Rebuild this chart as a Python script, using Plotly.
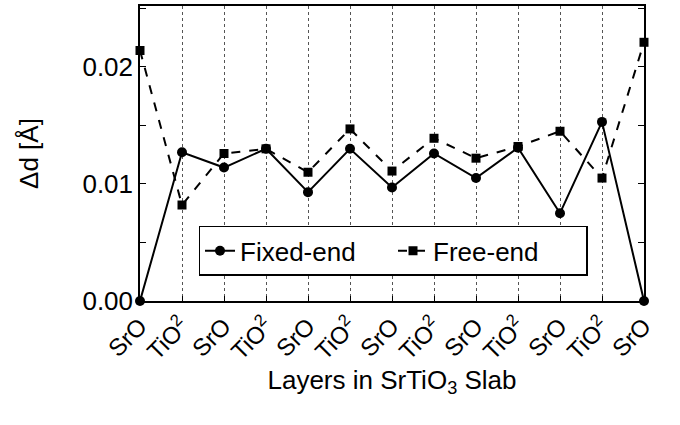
import plotly.graph_objects as go

layers = ["SrO", "TiO<sup>2</sup>", "SrO", "TiO<sup>2</sup>", "SrO", "TiO<sup>2</sup>", "SrO",
          "TiO<sup>2</sup>", "SrO", "TiO<sup>2</sup>", "SrO", "TiO<sup>2</sup>", "SrO"]
positions = list(range(len(layers)))
fixed_end = [0.0, 0.0127, 0.0114, 0.0130, 0.0093, 0.0130, 0.0097, 0.0126, 0.0105, 0.0131, 0.0075, 0.0153, 0.0]
free_end = [0.0214, 0.0082, 0.0126, 0.0130, 0.0110, 0.0147, 0.0111, 0.0139, 0.0122, 0.0132, 0.0145, 0.0105, 0.0221]

font = "Liberation Sans, Arial, sans-serif"

fig = go.Figure()
fig.add_trace(go.Scatter(
    x=positions, y=fixed_end, name="Fixed-end", mode="lines+markers",
    line=dict(color="black", width=2),
    marker=dict(symbol="circle", size=10, color="black"),
    cliponaxis=False,
))
fig.add_trace(go.Scatter(
    x=positions, y=free_end, name="Free-end", mode="lines+markers",
    line=dict(color="black", width=2, dash="dash"),
    marker=dict(symbol="square", size=9, color="black"),
    cliponaxis=False,
))

fig.update_layout(
    width=680, height=425,
    margin=dict(l=140, r=36, t=4, b=124),
    paper_bgcolor="white", plot_bgcolor="white",
    font=dict(family=font, color="black", size=26),
    showlegend=True,
    legend=dict(
        orientation="h", x=0.502, y=0.17, xanchor="center", yanchor="middle",
        bgcolor="white", bordercolor="black", borderwidth=1.5,
        font=dict(size=26), entrywidth=148, entrywidthmode="pixels",
    ),
)
fig.update_xaxes(
    range=[0, 12], tickmode="array", tickvals=positions, ticktext=layers,
    tickangle=-45, tickfont=dict(size=24),
    ticks="inside", ticklen=5, tickcolor="black",
    showline=True, linecolor="black", linewidth=1.5, mirror=True,
    showgrid=True, gridcolor="#555555", gridwidth=0.8, griddash="dot",
    zeroline=False,
    title=dict(text="Layers in SrTiO<sub>3</sub> Slab", font=dict(size=26), standoff=6),
)
fig.update_yaxes(
    range=[0, 0.0252], tick0=0, dtick=0.01, tickformat=".2f",
    ticks="inside", ticklen=6, tickcolor="black", tickfont=dict(size=26),
    minor=dict(dtick=0.005, ticks="inside", ticklen=6, tickcolor="black", showgrid=False),
    showline=True, linecolor="black", linewidth=1.5, mirror="ticks",
    showgrid=False, zeroline=False,
    title=dict(text="Δd [Å]", font=dict(size=26), standoff=36),
)

fig.write_html("out.html")
